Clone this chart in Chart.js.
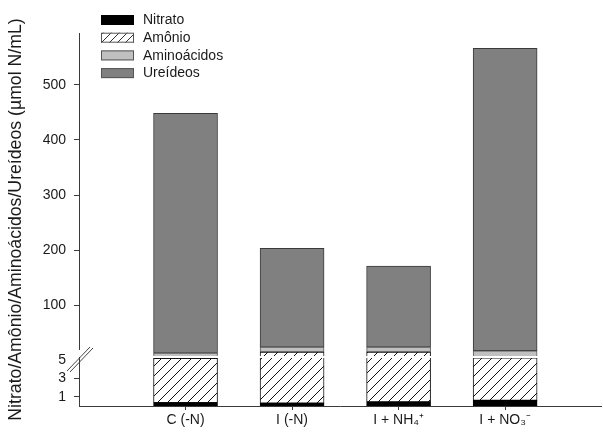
<!DOCTYPE html>
<html>
<head>
<meta charset="utf-8">
<script src="https://cdn.jsdelivr.net/npm/chart.js@4.4.1/dist/chart.umd.min.js"></script>
<style>
  html, body { margin: 0; padding: 0; background: #fff; }
  canvas { display: block; }
</style>
</head>
<body>
<canvas id="chart" width="603" height="432"></canvas>
<script>
// Treatments on the x axis
const categories = ['C (-N)', 'I (-N)', 'I + NH\u2084\u207A', 'I + NO\u2083\u207B'];

// Concentrations (µmol N/mL), stacked bottom to top
const nitrato     = [0.35, 0.3, 0.45, 0.6];
const amonio      = [4.8, 14.7, 14.6, 4.6];
const aminoacidos = [8, 9, 9, 12.2];
const ureideos    = [435, 179, 147, 549];

// Tick values for the two parts of the broken y axis
const lowerTicks = [1, 3, 5];
const upperTicks = [100, 200, 300, 400, 500];

const FONT = '"Liberation Sans", Arial, sans-serif';
const INK = '#1a1a1a';
const AXIS = '#3a3a3a';

// Diagonal "/" hatch used for ammonium
function makeHatch(size, color) {
  const c = document.createElement('canvas');
  c.width = size; c.height = size;
  const g = c.getContext('2d');
  g.fillStyle = '#fff';
  g.fillRect(0, 0, size, size);
  g.strokeStyle = color;
  g.lineWidth = 1;
  g.beginPath();
  g.moveTo(-1, size + 1); g.lineTo(size + 1, -1);
  g.moveTo(-1, 1); g.lineTo(1, -1);
  g.moveTo(size - 1, size + 1); g.lineTo(size + 1, size - 1);
  g.stroke();
  return document.getElementById('chart').getContext('2d').createPattern(c, 'repeat');
}

const hatchBar = makeHatch(10, '#111');
const hatchKey = makeHatch(8, '#333');

const seriesStyle = [
  { label: 'Nitrato',     values: nitrato,     fill: '#000',    key: '#000',    border: '#000' },
  { label: 'Amônio',      values: amonio,      fill: hatchBar,  key: hatchKey,  border: '#111' },
  { label: 'Aminoácidos', values: aminoacidos, fill: '#c0c0c0', key: '#c0c0c0', border: '#5a5a5a' },
  { label: 'Ureídeos',    values: ureideos,    fill: '#808080', key: '#808080', border: '#3a3a3a' }
];

// Floating segments: each series starts where the previous one ended
const datasets = [];
['yLow', 'yHigh'].forEach(axisId => {
  let base = categories.map(() => 0);
  seriesStyle.forEach(s => {
    const lo = base.slice();
    const hi = base.map((b, i) => b + s.values[i]);
    datasets.push({
      label: s.label,
      panel: axisId,
      keyFill: s.key,
      yAxisID: axisId,
      data: categories.map((_, i) => ({ x: i + 1, y: [lo[i], hi[i]] })),
      backgroundColor: s.fill,
      borderColor: s.border,
      borderWidth: 1,
      borderSkipped: false,
      grouped: false,
      barThickness: 64
    });
    base = hi;
  });
});

// Each dataset is drawn only inside its own part of the broken axis
const panelClip = {
  id: 'panelClip',
  beforeDatasetDraw(chart, args) {
    const ds = chart.data.datasets[args.index];
    const s = chart.scales[ds.yAxisID];
    const a = chart.chartArea;
    const top = ds.panel === 'yLow' ? s.top + 1 : s.top - 1;
    const bottom = ds.panel === 'yHigh' ? s.bottom - 1 : s.bottom + 1;
    const ctx = chart.ctx;
    ctx.save();
    ctx.beginPath();
    ctx.rect(a.left, top, a.right - a.left, bottom - top);
    ctx.clip();
  },
  afterDatasetDraw(chart) {
    chart.ctx.restore();
  }
};

// Axis break marks, y title and the key in the upper left
const decorations = {
  id: 'decorations',
  afterDraw(chart) {
    const ctx = chart.ctx;
    const low = chart.scales.yLow;
    const a = chart.chartArea;
    const yb = low.top;

    // gap in the y axis line and the "//" break symbol
    ctx.save();
    ctx.fillStyle = '#fff';
    ctx.fillRect(a.left - 3, yb - 7, 6, 7);
    ctx.strokeStyle = '#444';
    ctx.lineWidth = 1;
    ctx.beginPath();
    ctx.moveTo(a.left - 12, yb + 14); ctx.lineTo(a.left + 11, yb - 10);
    ctx.moveTo(a.left - 9, yb + 15);  ctx.lineTo(a.left + 14, yb - 9);
    ctx.stroke();
    ctx.restore();

    // y axis title
    ctx.save();
    ctx.translate(16, (a.top + a.bottom) / 2);
    ctx.rotate(-Math.PI / 2);
    ctx.font = '17.7px ' + FONT;
    ctx.fillStyle = INK;
    ctx.textAlign = 'center';
    ctx.textBaseline = 'middle';
    ctx.fillText('Nitrato/Amônio/Aminoácidos/Ureídeos (µmol N/mL)', 0, 0);
    ctx.restore();

    // key
    const keyItems = chart.data.datasets.filter(d => d.panel === 'yLow');
    ctx.save();
    ctx.font = '14px ' + FONT;
    ctx.textBaseline = 'middle';
    keyItems.forEach((d, i) => {
      const x = 101, y = 15 + i * 17.7, w = 33, h = 10;
      ctx.fillStyle = d.keyFill;
      ctx.fillRect(x, y, w, h);
      ctx.strokeStyle = i === 0 ? '#000' : '#555';
      ctx.lineWidth = 1;
      ctx.strokeRect(x + 0.5, y + 0.5, w - 1, h - 1);
      ctx.fillStyle = INK;
      ctx.fillText(d.label, 143, y + h / 2 + 0.5);
    });
    ctx.restore();
  }
};

const tickFont = { family: FONT, size: 14 };

new Chart(document.getElementById('chart'), {
  type: 'bar',
  data: { datasets },
  plugins: [panelClip, decorations],
  options: {
    responsive: false,
    devicePixelRatio: 1,
    animation: false,
    layout: { padding: { left: 0, top: 33, right: 2, bottom: 0 } },
    plugins: { legend: { display: false }, tooltip: { enabled: false } },
    scales: {
      x: {
        type: 'linear',
        offset: false,
        min: 0,
        max: 4.9,
        afterBuildTicks: s => { s.ticks = categories.map((_, i) => ({ value: i + 1 })); },
        afterFit: s => { s.height = 26; },
        ticks: {
          font: tickFont,
          color: INK,
          padding: 2,
          maxRotation: 0,
          autoSkip: false,
          callback: v => categories[v - 1] ?? ''
        },
        grid: { offset: false, drawOnChartArea: false, tickLength: 4, tickColor: AXIS },
        border: { color: AXIS, width: 1 }
      },
      yLow: {
        type: 'linear',
        position: 'left',
        stack: 'broken',
        stackWeight: 49,
        min: 0,
        max: 5.3,
        afterBuildTicks: s => { s.ticks = lowerTicks.map(v => ({ value: v })); },
        afterFit: s => { s.width = 79; },
        ticks: { font: tickFont, color: INK, padding: 8, autoSkip: false },
        grid: {
          drawOnChartArea: false,
          tickLength: 5,
          tickColor: c => (c.tick && c.tick.value === 5) ? 'rgba(0,0,0,0)' : AXIS
        },
        border: { color: AXIS, width: 1 }
      },
      yHigh: {
        type: 'linear',
        position: 'left',
        stack: 'broken',
        stackWeight: 324,
        min: 6,
        max: 594,
        afterBuildTicks: s => { s.ticks = upperTicks.map(v => ({ value: v })); },
        afterFit: s => { s.width = 79; },
        ticks: { font: tickFont, color: INK, padding: 8, autoSkip: false },
        grid: { drawOnChartArea: false, tickLength: 5, tickColor: AXIS },
        border: { color: AXIS, width: 1 }
      }
    }
  }
});
</script>
</body>
</html>
